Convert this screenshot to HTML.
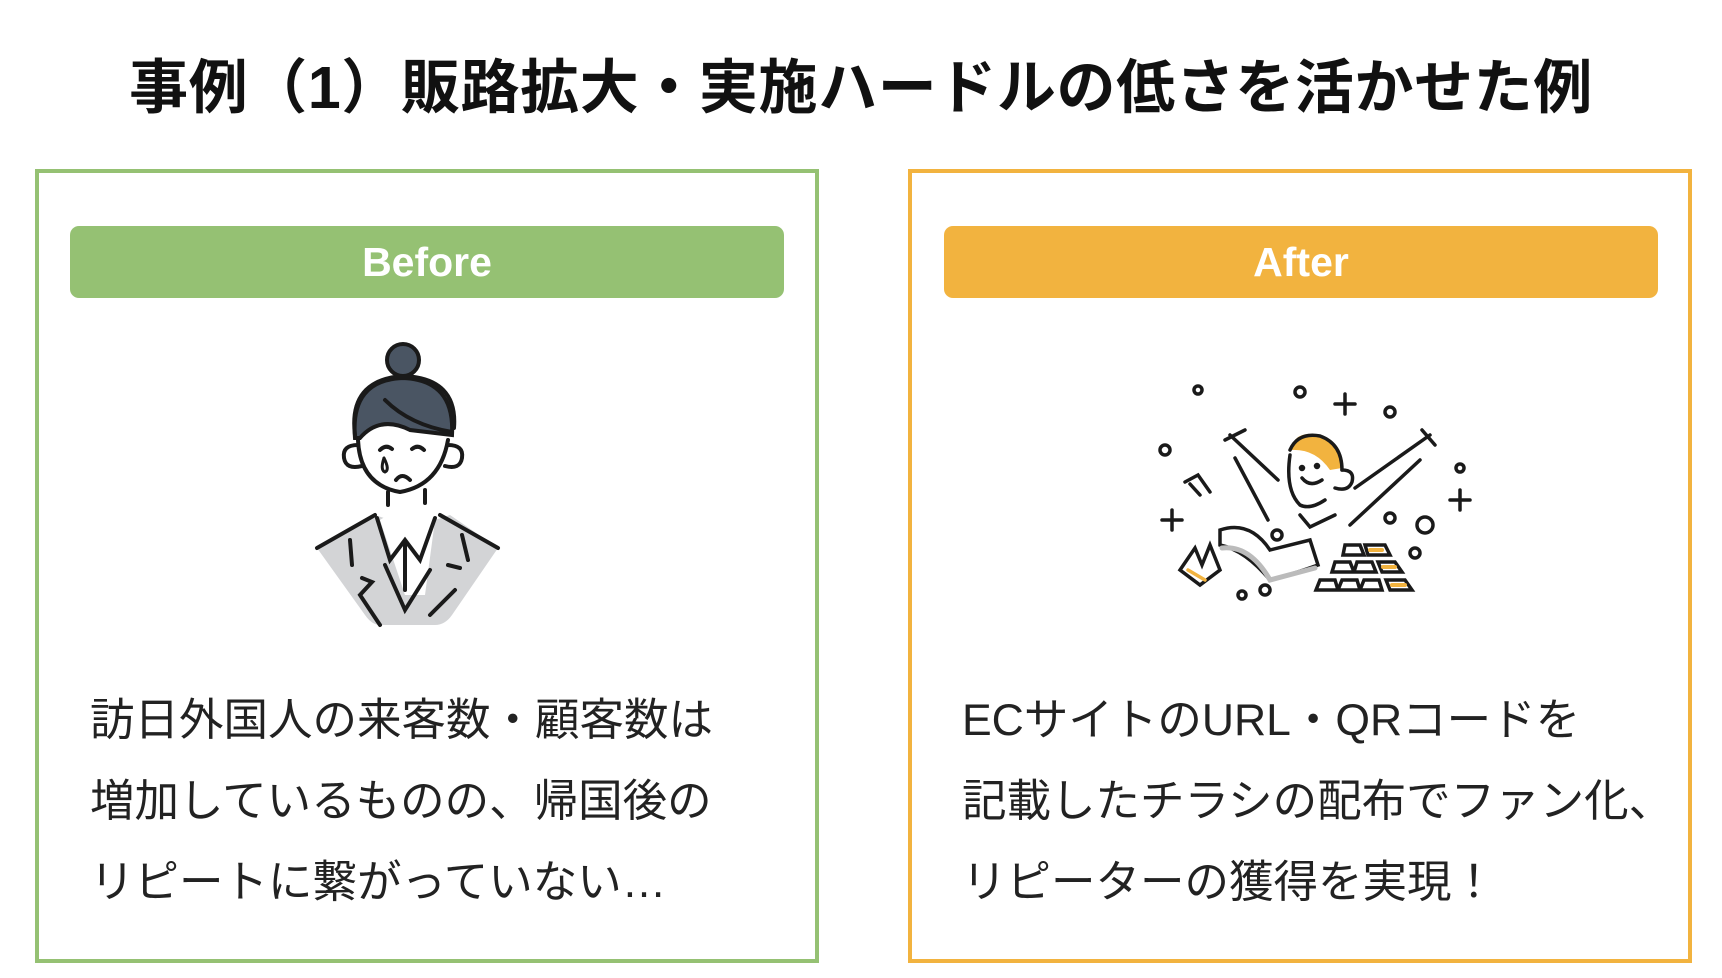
<!DOCTYPE html>
<html><head><meta charset="utf-8"><style>
html,body{margin:0;padding:0;background:#fff;}
body{width:1722px;height:978px;position:relative;overflow:hidden;font-family:"Liberation Sans","Noto Sans CJK JP",sans-serif;}
.title{position:absolute;left:0;width:1722px;top:52px;text-align:center;font-size:59px;letter-spacing:0.6px;font-weight:bold;color:#111;line-height:72px;}
.box{position:absolute;top:169px;height:794px;width:784px;box-sizing:border-box;border:4px solid;}
.bar{position:absolute;top:226px;height:72px;width:714px;border-radius:9px;color:#fff;font-weight:bold;font-size:41px;text-align:center;line-height:72px;}
.txt{position:absolute;top:680px;font-size:44.5px;line-height:81px;color:#222;white-space:nowrap;}
</style></head><body>
<div class="title">事例（1）販路拡大・実施ハードルの低さを活かせた例</div>
<div class="box" style="left:35px;border-color:#95c173"></div>
<div class="box" style="left:908px;border-color:#f2b33f"></div>
<div class="bar" style="left:70px;background:#95c173">Before</div>
<div class="bar" style="left:944px;background:#f2b33f">After</div>
<div class="txt" style="left:90px">訪日外国人の来客数・顧客数は<br>増加しているものの、帰国後の<br>リピートに繋がっていない…</div>
<div class="txt" style="left:962px">ECサイトのURL・QRコードを<br>記載したチラシの配布でファン化、<br>リピーターの獲得を実現！</div>

<svg style="position:absolute;left:280px;top:320px" width="260" height="320" viewBox="0 0 260 320" fill="none" stroke="#1a1a1a" stroke-width="4" stroke-linecap="round">
<path d="M37 228 L95 195 L110 200 L125 275 L145 275 L155 200 L170 195 L218 228 L172 295 Q165 305 155 305 L100 305 Q92 305 85 295 Z" fill="#d3d4d6" stroke="none"/>
<path d="M100 200 L125 275 L150 200 L135 190 L125 200 L115 190 Z" fill="#fff" stroke="none"/>
<circle cx="123" cy="40" r="16" fill="#4a5563"/>
<path d="M75 118 Q70 60 123 58 Q175 60 172 115 L130 110 Q100 95 80 118 Z" fill="#4a5563"/>
<path d="M75 115 Q68 60 123 56 Q178 58 174 108"/>
<path d="M105 80 Q130 105 172 112"/>
<path d="M78 120 Q80 165 120 172 Q160 165 168 120"/>
<path d="M78 125 Q62 125 64 138 Q66 150 82 146"/>
<path d="M168 125 Q184 125 182 138 Q180 150 165 146"/>
<path d="M100 130 Q106 124 112 129 M132 129 Q138 124 144 130"/>
<path d="M116 160 Q122 152 130 160"/>
<path d="M104 138 Q100 150 105 152 Q110 150 104 138" stroke-width="3"/>
<path d="M108 172 L108 185 M145 170 L145 183"/>
<path d="M37 228 L95 195 M218 228 L160 195"/>
<path d="M97 198 L110 240 L125 220 L140 240 L155 198"/>
<path d="M125 225 L125 270 M105 245 L125 290 L150 250"/>
<path d="M70 220 L72 245 M82 258 L92 262 L80 275 L100 305 M182 215 L188 240 M168 245 L180 248 M175 270 L150 295"/>
</svg>

<svg style="position:absolute;left:1150px;top:370px" width="350" height="250" viewBox="0 0 350 250" fill="none" stroke="#1a1a1a" stroke-width="3.5" stroke-linecap="round">
<path d="M140 80 Q145 60 168 65 Q190 72 192 98 L180 100 Q165 78 140 80 Z" fill="#f2b33f" stroke="none"/>
<path d="M140 80 Q148 62 170 66 Q192 74 192 100"/>
<path d="M140 85 Q135 120 150 135 Q160 140 175 130 M192 100 Q205 100 202 112 Q198 122 185 118"/>
<path d="M152 108 Q160 118 172 110"/>
<circle cx="152" cy="98" r="1.5" fill="#1a1a1a"/><circle cx="167" cy="96" r="1.5" fill="#1a1a1a"/>
<path d="M80 65 L128 110 M85 88 L118 150 M75 70 L95 60"/>
<path d="M205 118 L280 65 M200 155 L270 90 M272 60 L285 75"/>
<path d="M150 145 L160 157 L185 145"/>
<path d="M70 160 Q100 150 120 180 L160 170 L168 195 Q140 205 120 210 Q95 180 70 175 Z" fill="#fff"/>
<path d="M72 178 Q100 175 120 210 L165 198" stroke="#bbb" stroke-width="5"/>
<path d="M30 200 L45 178 L52 195 L60 175 L70 200 L50 215 Z"/>
<path d="M38 200 L55 210" stroke="#f2b33f"/>
<g fill="#fff"><path d="M195 175 L210 175 L214 185 L193 185 Z M215 175 L235 175 L240 185 L218 185 Z M185 192 L200 192 L204 202 L182 202 Z M207 192 L222 192 L226 202 L204 202 Z M228 192 L245 192 L252 202 L232 202 Z M170 210 L185 210 L188 220 L166 220 Z M192 210 L207 210 L210 220 L188 220 Z M214 210 L229 210 L232 220 L210 220 Z M236 210 L255 210 L262 220 L240 220 Z"/></g>
<path d="M220 180 L232 180 M233 197 L245 197 M242 215 L255 215" stroke="#f2b33f" stroke-width="4"/>
<path d="M195 24 L195 44 M185 34 L205 34 M310 120 L310 140 M300 130 L320 130 M22 140 L22 160 M12 150 L32 150"/>
<path d="M35 112 L48 105 L60 122 M40 114 L50 125"/>
<circle cx="48" cy="20" r="4"/><circle cx="150" cy="22" r="5"/><circle cx="240" cy="42" r="5"/><circle cx="15" cy="80" r="5"/><circle cx="310" cy="98" r="4"/><circle cx="240" cy="148" r="5"/><circle cx="127" cy="165" r="5"/><circle cx="265" cy="183" r="5"/><circle cx="92" cy="225" r="4"/><circle cx="115" cy="220" r="5"/><circle cx="275" cy="155" r="8"/>
</svg>
</body></html>
